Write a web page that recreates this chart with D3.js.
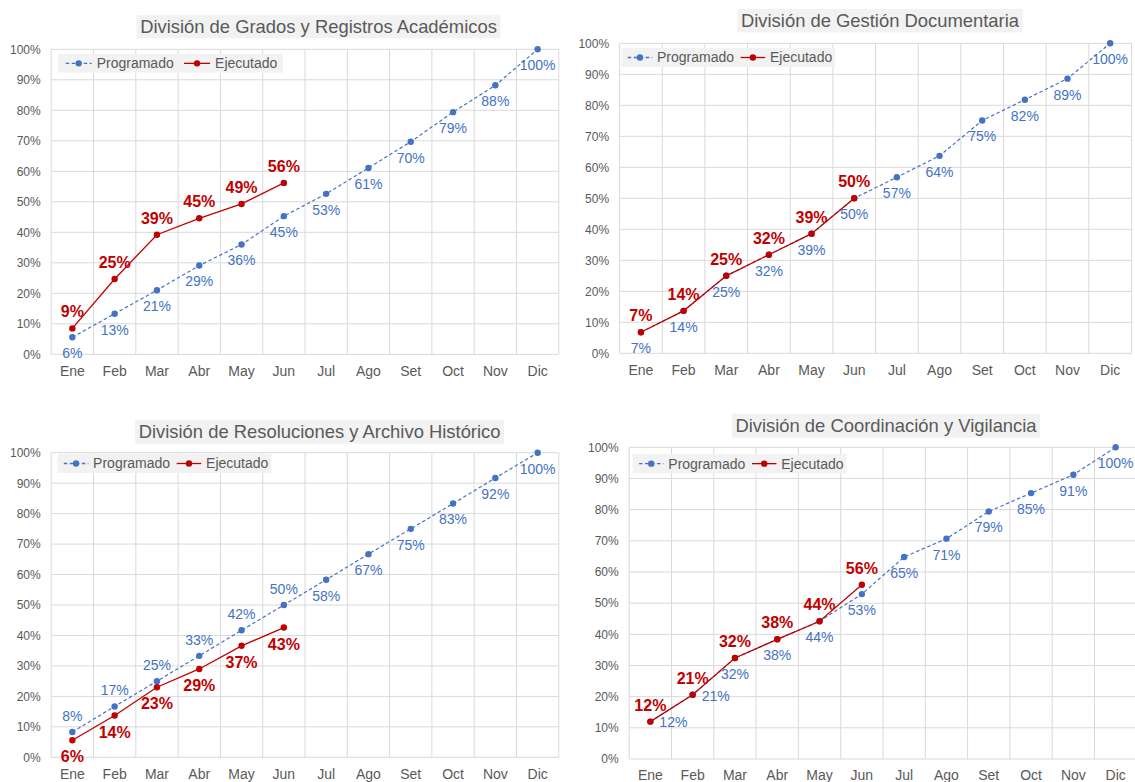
<!DOCTYPE html>
<html><head><meta charset="utf-8">
<script src="https://cdn.jsdelivr.net/npm/d3@7"></script>
<style>
html,body{margin:0;padding:0;background:#fff;}
svg{display:block;font-family:"Liberation Sans",Arial,sans-serif;}
</style></head>
<body><svg id="c" width="1135" height="782"></svg>
<script>
const months = ["Ene","Feb","Mar","Abr","May","Jun","Jul","Ago","Set","Oct","Nov","Dic"];
const yTicks = [0,0.1,0.2,0.3,0.4,0.5,0.6,0.7,0.8,0.9,1.0];
const seriesNames = ["Programado","Ejecutado"];

const titles = [
  "División de Grados y Registros Académicos",
  "División de Gestión Documentaria",
  "División de Resoluciones y Archivo Histórico",
  "División de Coordinación y Vigilancia"
];

const progGrados = [0.056,0.133,0.210,0.291,0.360,0.453,0.526,0.611,0.697,0.794,0.882,1.00];
const ejecGrados = [0.085,0.247,0.392,0.446,0.493,0.562];

const progGestion = [0.068,0.137,0.250,0.318,0.386,0.500,0.568,0.637,0.751,0.818,0.886,1.00];
const ejecGestion = [0.068,0.137,0.250,0.318,0.386,0.500];

const progResol = [0.083,0.167,0.250,0.333,0.417,0.500,0.583,0.667,0.750,0.833,0.917,1.00];
const ejecResol = [0.056,0.137,0.230,0.290,0.366,0.426];

const progCoord = [0.120,0.206,0.324,0.384,0.442,0.529,0.648,0.707,0.794,0.853,0.912,1.00];
const ejecCoord = [0.120,0.206,0.324,0.384,0.442,0.559];

const BLUE = "#4472C4", RED = "#C00000", GREY = "#595959", GRID = "#d9d9d9";

// legend spacing styles: [start pad, line length, text offset from line start, gap, end pad]
const lgWide = [7.7, 26, 31, 10.3, 5.7];
const lgTight = [6.3, 24.5, 29.3, 6.6, 3];

const panels = [
  {title: titles[0], prog: progGrados, ejec: ejecGrados,
   L:51.2, R:558.8, T:49.3, B:354.3, tx:318.5, ty:26.7, th:23,
   lg:[58,54,18.7], lgs: lgWide, xy:371,
   progPos: months.map(()=> "below"), ejecPos: months.map(()=> "above")},
  {title: titles[1], prog: progGestion, ejec: ejecGestion,
   L:619.6, R:1131.5, T:43.3, B:353.3, tx:880, ty:20.7, th:23.4,
   lg:[621.4,48,19], lgs: lgTight, xy:370,
   progPos: months.map(()=> "below"), ejecPos: months.map(()=> "above")},
  {title: titles[2], prog: progResol, ejec: ejecResol,
   L:51.2, R:558.8, T:452.7, B:757.3, tx:319.6, ty:431.7, th:24,
   lg:[57.5,454,19], lgs: lgTight, xy:774,
   progPos: months.map((m,i)=> i<6 ? "above" : "below"), ejecPos: months.map(()=> "below")},
  {title: titles[3], prog: progCoord, ejec: ejecCoord,
   L:629.2, R:1136.8, T:447.3, B:759, tx:886, ty:425.7, th:24,
   lg:[632.7,454,19.3], lgs: lgTight, xy:775,
   progPos: months.map((m,i)=> i<2 ? "right" : "below"), ejecPos: months.map(()=> "above")}
];

const svg = d3.select("#c");
const fmt = d3.format(".0%");
const FF = "Liberation Sans, Arial, sans-serif";

panels.forEach(p => {
  const g = svg.append("g");
  const x = d3.scaleBand().domain(months).range([p.L, p.R]);
  const cx = m => x(m) + x.bandwidth()/2;
  const y = d3.scaleLinear().domain([0,1]).range([p.B, p.T]);

  // title
  const tbg = g.append("rect").attr("fill","#f2f2f2");
  const tt = g.append("text").attr("x",p.tx).attr("y",p.ty).attr("dy","0.35em").attr("text-anchor","middle")
   .attr("font-size",18.4).attr("fill",GREY).text(p.title);
  const tw = tt.node().getComputedTextLength();
  tbg.attr("x",p.tx - tw/2 - 3.5).attr("width",tw + 7).attr("y",p.ty - p.th/2).attr("height",p.th);

  // gridlines
  g.append("g").selectAll("line").data(yTicks).join("line")
   .attr("x1",p.L).attr("x2",p.R).attr("y1",d=>y(d)).attr("y2",d=>y(d))
   .attr("stroke",GRID).attr("stroke-width",1);
  const vx = months.map(m => x(m)).concat([p.R]);
  g.append("g").selectAll("line").data(vx).join("line")
   .attr("x1",d=>d).attr("x2",d=>d).attr("y1",p.T).attr("y2",p.B)
   .attr("stroke",GRID).attr("stroke-width",1);

  // y axis labels
  const ya = d3.axisLeft(y).tickValues(yTicks).tickFormat(fmt).tickSize(0).tickPadding(10.5);
  const yg = g.append("g").attr("transform",`translate(${p.L},0)`).call(ya);
  yg.select(".domain").remove();
  yg.selectAll("text").attr("font-size",12).attr("fill",GREY).attr("font-family",FF);

  // x axis labels
  const xa = d3.axisBottom(x).tickSize(0).tickPadding(0);
  const xg = g.append("g").attr("transform",`translate(0,${p.xy})`).call(xa);
  xg.select(".domain").remove();
  xg.selectAll("text").attr("font-size",14).attr("fill",GREY).attr("dy","0.35em").attr("y",0)
    .attr("font-family",FF);

  // lines
  const line = d3.line().x((d,i)=>cx(months[i])).y(d=>y(d));
  g.append("path").datum(p.prog).attr("d",line).attr("fill","none")
   .attr("stroke",BLUE).attr("stroke-width",1.2).attr("stroke-dasharray","3.5,2.5");
  g.append("g").selectAll("circle").data(p.prog).join("circle")
   .attr("cx",(d,i)=>cx(months[i])).attr("cy",d=>y(d)).attr("r",3.2).attr("fill",BLUE);

  g.append("path").datum(p.ejec).attr("d",line).attr("fill","none")
   .attr("stroke",RED).attr("stroke-width",1.3);
  g.append("g").selectAll("circle").data(p.ejec).join("circle")
   .attr("cx",(d,i)=>cx(months[i])).attr("cy",d=>y(d)).attr("r",3.2).attr("fill",RED);

  // labels
  const place = (sel, posArr, off) => sel
    .attr("x",(d,i)=> posArr[i]==="right" ? cx(months[i])+9 : cx(months[i]))
    .attr("y",(d,i)=> posArr[i]==="above" ? y(d)-off : posArr[i]==="below" ? y(d)+off : y(d)+1)
    .attr("text-anchor",(d,i)=> posArr[i]==="right" ? "start" : "middle")
    .attr("dy","0.35em");
  place(g.append("g").selectAll("text").data(p.prog).join("text"), p.progPos, 16)
    .attr("font-size",14).attr("fill",BLUE).text(d=>fmt(d));
  place(g.append("g").selectAll("text").data(p.ejec).join("text"), p.ejecPos, 16.5)
    .attr("font-size",16).attr("font-weight","bold").attr("fill",RED).text(d=>fmt(d));

  // legend
  const [sp, ll, to, gap, ep] = p.lgs;
  const lx = p.lg[0], ly = p.lg[1], lh = p.lg[2], lcy = ly + lh/2;
  const lgG = g.append("g");
  const bg = lgG.append("rect").attr("x",lx).attr("y",ly).attr("height",lh).attr("fill","#f2f2f2");
  let cur = lx + sp;
  let endX = cur;
  seriesNames.forEach((nm, k) => {
    const col = k===0 ? BLUE : RED;
    lgG.append("line").attr("x1",cur).attr("x2",cur+ll).attr("y1",lcy).attr("y2",lcy)
      .attr("stroke",col).attr("stroke-width",1.3).attr("stroke-dasharray", k===0 ? "3.5,2.5" : null);
    lgG.append("circle").attr("cx",cur+ll/2).attr("cy",lcy).attr("r",3.2).attr("fill",col);
    const t = lgG.append("text").attr("x",cur+to).attr("y",lcy).attr("dy","0.35em")
      .attr("font-size",14).attr("fill",GREY).text(nm);
    const w = t.node().getComputedTextLength();
    endX = cur + to + w;
    cur = endX + gap;
  });
  bg.attr("width", endX + ep - lx);
});
</script></body></html>
